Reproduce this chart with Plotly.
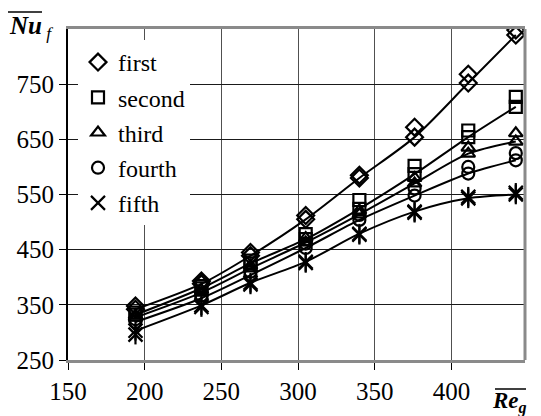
import plotly.graph_objects as go

# Reynolds number of the gas flow (x positions of the measurements)
re_g = [194, 237, 269, 305, 340, 376, 411, 442]

series_names = ["first", "second", "third", "fourth", "fifth"]

# Nusselt number per row: two measured sets (a, b); the curve follows set b
nu_first_a = [348, 393, 445, 512, 585, 672, 768, 848]
nu_first_b = [342, 388, 439, 505, 580, 654, 752, 839]
nu_second_a = [336, 384, 430, 478, 540, 602, 666, 727]
nu_second_b = [332, 380, 425, 469, 524, 587, 654, 709]
nu_third_a = [331, 377, 421, 471, 521, 580, 635, 661]
nu_third_b = [327, 372, 416, 463, 514, 570, 624, 646]
nu_fourth_a = [324, 367, 410, 461, 513, 561, 600, 625]
nu_fourth_b = [319, 362, 404, 453, 504, 548, 588, 612]
nu_fifth_a = [296, 346, 387, 426, 477, 517, 546, 553]
nu_fifth_b = [303, 349, 390, 428, 479, 519, 543, 550]

set_a = [nu_first_a, nu_second_a, nu_third_a, nu_fourth_a, nu_fifth_a]
set_b = [nu_first_b, nu_second_b, nu_third_b, nu_fourth_b, nu_fifth_b]
symbols = ["diamond-open", "square-open", "triangle-up-open", "circle-open", "x-thin-open"]
sizes = [13, 12, 12, 12, 14]

x_ticks = [150, 200, 250, 300, 350, 400]
y_ticks = [250, 350, 450, 550, 650, 750]

FONT = "Liberation Serif"
INK = "black"

fig = go.Figure()

for name, ya, yb, sym, size in zip(series_names, set_a, set_b, symbols, sizes):
    mk = dict(symbol=sym, size=size, color=INK,
              line=dict(color=INK, width=2.2))
    fig.add_trace(go.Scatter(
        x=re_g, y=yb, mode="lines+markers", name=name,
        line=dict(color=INK, width=2, shape="spline", smoothing=0.8),
        marker=mk, showlegend=False, legendgroup=name))
    fig.add_trace(go.Scatter(
        x=re_g, y=ya, mode="markers", name=name,
        marker=mk, showlegend=True, legendgroup=name))
    if sym == "x-thin-open":
        # vertical stroke completes the six-armed asterisk
        stroke = dict(symbol="line-ns-open", size=size, color=INK,
                      line=dict(color=INK, width=2.2))
        for yy in (ya, yb):
            fig.add_trace(go.Scatter(x=re_g, y=yy, mode="markers",
                                     marker=stroke, showlegend=False,
                                     hoverinfo="skip"))

W, H = 541, 416
L, R, T, B = 68, 16, 29, 56
pw, ph = W - L - R, H - T - B


def px_x(p):
    return (p - L) / pw


def px_y(p):
    return (H - B - p) / ph


fig.update_layout(
    width=W, height=H,
    margin=dict(l=L, r=R, t=T, b=B, pad=0),
    paper_bgcolor="white", plot_bgcolor="white",
    font=dict(family=FONT, size=25, color=INK),
    legend=dict(x=px_x(78), y=px_y(40), xanchor="left", yanchor="top",
                bgcolor="white", borderwidth=0,
                font=dict(family=FONT, size=24, color=INK),
                tracegroupgap=1, itemwidth=30),
    xaxis=dict(range=[150, 448], tickvals=x_ticks, ticks="outside",
               ticklen=7, tickwidth=1, tickcolor=INK,
               showgrid=True, gridcolor="#505050", gridwidth=1,
               showline=True, linecolor="#8a8a8a", linewidth=3, mirror=True,
               zeroline=False, tickfont=dict(family=FONT, size=25)),
    yaxis=dict(range=[250, 850], tickvals=y_ticks, ticks="outside",
               ticklen=7, tickwidth=1, tickcolor=INK,
               showgrid=True, gridcolor="#1a1a1a", gridwidth=1,
               showline=True, linecolor=INK, linewidth=2,
               zeroline=False, tickfont=dict(family=FONT, size=25)),
    showlegend=True,
)

# right border of the plot frame
fig.add_shape(type="line", xref="paper", yref="paper", x0=1, x1=1, y0=0, y1=1,
              line=dict(color="#8a8a8a", width=3))

# axis titles with overbars (averaged quantities)
fig.add_annotation(xref="paper", yref="paper", x=px_x(7), y=px_y(27),
                   xanchor="left", yanchor="middle", showarrow=False,
                   text="<b><i>Nu</i></b><sub><i> f</i></sub>",
                   font=dict(family=FONT, size=25, color=INK))
fig.add_shape(type="line", xref="paper", yref="paper",
              x0=px_x(8), x1=px_x(42), y0=px_y(12), y1=px_y(12),
              line=dict(color=INK, width=1.5))
fig.add_annotation(xref="paper", yref="paper", x=px_x(490), y=px_y(402),
                   xanchor="left", yanchor="middle", showarrow=False,
                   text="<b><i>Re</i></b><sub><b><i>g</i></b></sub>",
                   font=dict(family=FONT, size=23, color=INK))
fig.add_shape(type="line", xref="paper", yref="paper",
              x0=px_x(495), x1=px_x(526), y0=px_y(389), y1=px_y(389),
              line=dict(color=INK, width=1.5))

fig.write_html("out.html")
